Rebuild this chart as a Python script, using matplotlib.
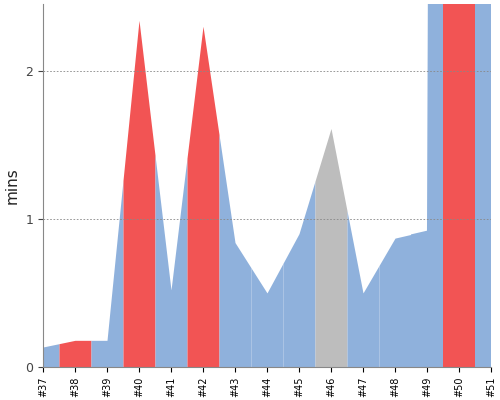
import numpy as np
import matplotlib
matplotlib.use("Agg")
import matplotlib.pyplot as plt

builds = ["#37","#38","#39","#40","#41","#42","#43","#44","#45","#46","#47","#48","#49","#50","#51"]
mins = [0.135,0.18,0.18,2.34,0.52,2.30,0.84,0.50,0.90,1.61,0.50,0.87,0.92,60.0,40.0]
status = ["ok","fail","ok","fail","ok","fail","ok","ok","ok","aborted","ok","ok","ok","fail","ok"]
colors = {"ok":"#8fb1dc","fail":"#f25454","aborted":"#bdbdbd"}

fig = plt.figure(figsize=(5,4), dpi=100)
ax = fig.add_axes([0.086, 0.0825, 0.896, 0.9075])
xs = np.arange(len(builds))
n = len(builds)
for i in range(n):
    lo, hi = max(i-0.5, 0), min(i+0.5, n-1)
    xx = np.linspace(lo, hi, 400)
    yy = np.interp(xx, xs, mins)
    ax.fill_between(xx, 0, yy, color=colors[status[i]], linewidth=0)
ax.set_xlim(0, n-1)
ax.set_ylim(0, 2.45)
ax.set_yticks([0,1,2])
ax.set_xticks(xs)
ax.set_xticklabels(builds, rotation=90, fontsize=7)
ax.tick_params(axis='y', labelsize=9, colors='#444444')
for v in [1,2]:
    ax.axhline(v, color='#888888', linestyle=(0,(2,2)), linewidth=0.6)
ax.spines['top'].set_visible(False)
ax.spines['right'].set_visible(False)
ax.spines['left'].set_color('#888888')
ax.spines['bottom'].set_color('#888888')
ax.set_ylabel("mins", fontsize=11, color='#222222')
fig.savefig("out.png")
